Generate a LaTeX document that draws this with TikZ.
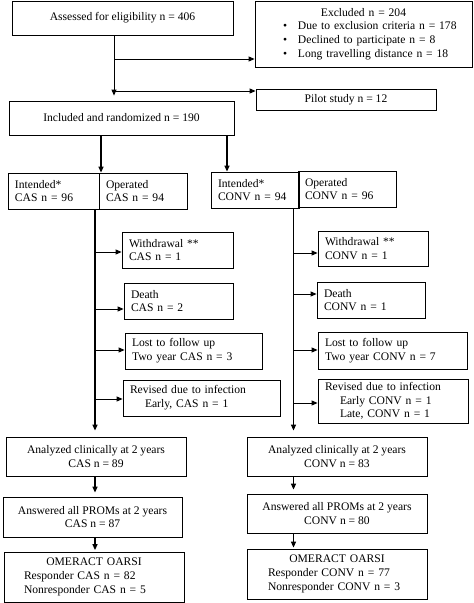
\documentclass[tikz,border=0pt]{standalone}
\usepackage{fontspec}
\setmainfont{Liberation Serif}
\usetikzlibrary{arrows.meta}

\begin{document}
\begin{tikzpicture}[x=1pt,y=-1pt]
\tikzstyle{box}=[draw, line width=0.8pt, inner xsep=7pt, inner ysep=1pt, font=\fontsize{11.6}{13.8}\selectfont]
\tikzstyle{lbox}=[box, align=left]
\tikzstyle{cbox}=[box, align=center]
\tikzstyle{arr}=[line width=0.9pt, -{Triangle[length=6pt,width=5pt]}]
\tikzstyle{trunk}=[arr, line width=1.4pt]
\useasboundingbox (0,0) rectangle (474,603);

\node[cbox, minimum width=221pt, minimum height=34pt] (assess) at (122.5,18) {Assessed for eligibility n = 406};
\node[lbox, minimum width=217pt, minimum height=66pt, text width=203pt] (excl) at (363.5,34)
  {\hfill Excluded n = 204\hfill\null\\
   \hspace*{21pt}\makebox[15pt][l]{\textbullet}Due to exclusion criteria n = 178\\
   \hspace*{21pt}\makebox[15pt][l]{\textbullet}Declined to participate n = 8\\
   \hspace*{21pt}\makebox[15pt][l]{\textbullet}Long travelling distance n = 18};
\node[cbox, minimum width=180pt, minimum height=21pt] (pilot) at (346,99.5) {Pilot study n = 12};
\node[cbox, minimum width=225pt, minimum height=34pt] (incl) at (121.5,118) {Included and randomized n = 190};

\node[lbox, minimum height=36pt, text width=77pt] (intCAS) at (53.5,191) {Intended*\\CAS n = 96};
\node[lbox, minimum height=36pt, text width=74pt] (opCAS) at (143,191) {Operated\\CAS n = 94};
\node[lbox, minimum height=36pt, text width=74pt] (intCONV) at (255,190) {Intended*\\CONV n = 94};
\node[lbox, minimum height=36pt, text width=84pt] (opCONV) at (347,189) {Operated\\CONV n = 96};

\node[lbox, minimum height=36pt, text width=97pt] (wdCAS) at (177.5,250) {Withdrawal **\\CAS n = 1};
\node[lbox, minimum height=36pt, text width=95pt] (deCAS) at (178.5,301) {Death\\CAS n = 2};
\node[lbox, minimum height=36pt, text width=123pt] (lostCAS) at (193.5,351) {Lost to follow up\\Two year CAS n = 3};
\node[lbox, minimum height=36pt, text width=143pt] (revCAS) at (201.5,398) {Revised due to infection\\\hspace*{15pt}Early, CAS n = 1};

\node[lbox, minimum height=35pt, text width=96pt] (wdCONV) at (373,248.5) {Withdrawal **\\CONV n = 1};
\node[lbox, minimum height=36pt, text width=94pt] (deCONV) at (371,300) {Death\\CONV n = 1};
\node[lbox, minimum height=37pt, text width=135pt] (lostCONV) at (392.5,350.5) {Lost to follow up\\Two year CONV n = 7};
\node[lbox, minimum height=44pt, text width=136pt] (revCONV) at (393,401) {Revised due to infection\\\hspace*{15pt}Early CONV n = 1\\\hspace*{15pt}Late, CONV n = 1};

\node[cbox, minimum width=180pt, minimum height=39pt] (anaCAS) at (96,456.5) {Analyzed clinically at 2 years\\CAS n = 89};
\node[cbox, minimum width=180pt, minimum height=39pt] (anaCONV) at (337,456.5) {Analyzed clinically at 2 years\\CONV n = 83};
\node[cbox, minimum width=179pt, minimum height=40pt] (promCAS) at (92.5,517) {Answered all PROMs at 2 years\\CAS n = 87};
\node[cbox, minimum width=180pt, minimum height=39pt] (promCONV) at (337,513.5) {Answered all PROMs at 2 years\\CONV n = 80};
\node[lbox, inner xsep=20pt, minimum height=50pt, text width=140pt] (omCAS) at (94,577)
  {\hfill OMERACT OARSI\hfill\null\\Responder CAS n = 82\\Nonresponder CAS n = 5};
\node[lbox, inner xsep=21pt, minimum height=50pt, text width=138pt] (omCONV) at (337,574)
  {\hfill OMERACT OARSI\hfill\null\\Responder CONV n = 77\\Nonresponder CONV n = 3};

\coordinate (split) at (114,0);
\coordinate (ex) at (114,59);
\coordinate (pil) at (114,91);
\coordinate (lsplit) at (101,0);
\coordinate (rsplit) at (227,0);
\coordinate (lt) at (95,0);
\coordinate (rt) at (293.5,0);

\draw[arr, shorten >=5pt] (assess.south -| split) -- (incl.north -| split);
\draw[arr] (ex) -- (ex -| excl.west);
\draw[arr] (pil) -- (pil -| pilot.west);
\draw[trunk] (incl.south -| lsplit) -- (intCAS.north -| lsplit);
\draw[trunk] (incl.south -| rsplit) -- (intCONV.north -| rsplit);
\draw[trunk, shorten >=6pt] (intCAS.south -| lt) -- (anaCAS.north -| lt);
\draw[trunk, shorten >=6pt] (intCONV.south -| rt) -- (anaCONV.north -| rt);

\coordinate (w1) at (95,252);
\coordinate (d1) at (95,309);
\coordinate (l1) at (95,350);
\coordinate (r1) at (95,399);
\coordinate (w2) at (293.5,253);
\coordinate (d2) at (293.5,294);
\coordinate (l2) at (293.5,350);
\coordinate (r2) at (293.5,403);
\draw[arr] (w1) -- (w1 -| wdCAS.west);
\draw[arr] (d1) -- (d1 -| deCAS.west);
\draw[arr] (l1) -- (l1 -| lostCAS.west);
\draw[arr] (r1) -- (r1 -| revCAS.west);
\draw[arr] (w2) -- (w2 -| wdCONV.west);
\draw[arr] (d2) -- (d2 -| deCONV.west);
\draw[arr] (l2) -- (l2 -| lostCONV.west);
\draw[arr] (r2) -- (r2 -| revCONV.west);

\draw[trunk, shorten >=4pt] (anaCAS.south -| lt) -- (promCAS.north -| lt);
\draw[trunk, shorten >=1.5pt] (promCAS.south -| lt) -- (omCAS.north -| lt);
\draw[trunk, shorten >=4pt] (anaCONV.south -| rt) -- (promCONV.north -| rt);
\draw[trunk, shorten >=1pt] (promCONV.south -| rt) -- (omCONV.north -| rt);

\end{tikzpicture}
\end{document}
